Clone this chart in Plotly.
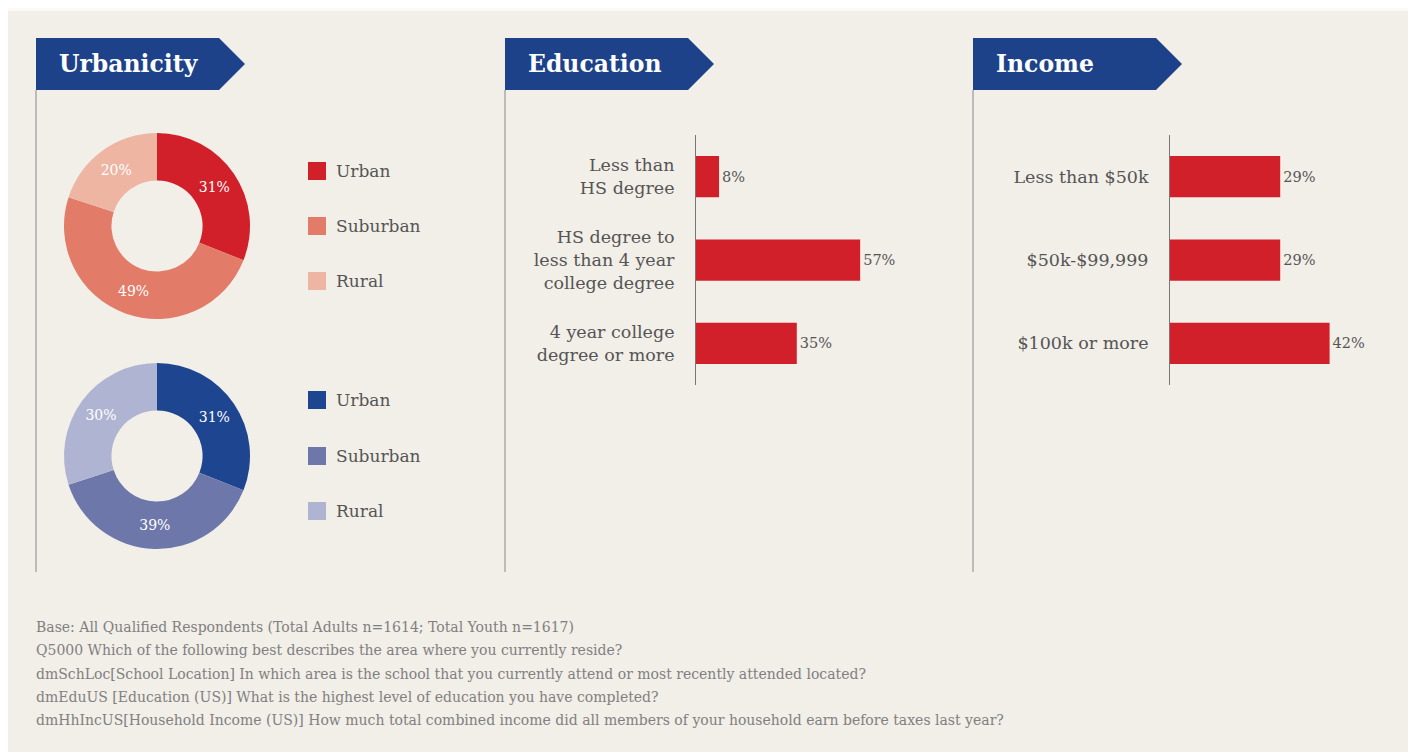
import plotly.graph_objects as go

# The browser page adds an 8px body margin; the figure fills the rest of the window.
OFF = 8
W, H = 1416 - OFF, 752 - OFF

# ---------------- data ----------------
urb_labels = ["Urban", "Suburban", "Rural"]
urb_adults = [31, 49, 20]
urb_youth = [31, 39, 30]
red_colors = ["#D2202B", "#E27B67", "#EDB5A2"]
blue_colors = ["#1E4590", "#6D77A9", "#B0B4D3"]

edu_labels = ["Less than<br>HS degree", "HS degree to<br>less than 4 year<br>college degree",
              "4 year college<br>degree or more"]
edu_values = [8, 57, 35]

inc_labels = ["Less than $50k", "$50k-$99,999", "$100k or more"]
inc_values = [29, 29, 42]

panel_titles = ["Urbanicity", "Education", "Income"]

footnotes = [
    "Base: All Qualified Respondents (Total Adults n=1614; Total Youth n=1617)",
    "Q5000 Which of the following best describes the area where you currently reside?",
    "dmSchLoc[School Location] In which area is the school that you currently attend or most recently attended located?",
    "dmEduUS [Education (US)] What is the highest level of education you have completed?",
    "dmHhIncUS[Household Income (US)] How much total combined income did all members of your household earn before taxes last year?",
]

SERIF = "DejaVu Serif"
TXT = "#555555"
BANNER = "#1D4289"
BG = "#F2EEE8"


def px(x):
    return (x - OFF) / W


def py(y):
    return 1 - (y - OFF) / H


fig = go.Figure()


# ---------------- donuts ----------------
def donut(values, colors, cy):
    cx, r = 157, 93
    fig.add_trace(go.Pie(
        labels=urb_labels, values=values, sort=False, direction="clockwise",
        rotation=0, hole=0.49,
        marker=dict(colors=colors, line=dict(width=0)),
        texttemplate="%{value}%", textposition="inside", insidetextorientation="horizontal",
        textfont=dict(family=SERIF, size=14, color="white"),
        domain=dict(x=[px(cx - r), px(cx + r)], y=[py(cy + r), py(cy - r)]),
        showlegend=False, hoverinfo="label+percent",
    ))


donut(urb_adults, red_colors, 226)
donut(urb_youth, blue_colors, 456)

# ---------------- bars ----------------
fig.add_trace(go.Bar(
    y=edu_labels, x=edu_values, orientation="h", xaxis="x", yaxis="y",
    marker=dict(color="#D2202B", line=dict(width=0)),
    text=[f"{v}%" for v in edu_values], textposition="outside", cliponaxis=False,
    textfont=dict(family=SERIF, size=14.5, color=TXT), showlegend=False,
))
fig.add_trace(go.Bar(
    y=inc_labels, x=inc_values, orientation="h", xaxis="x2", yaxis="y2",
    marker=dict(color="#D2202B", line=dict(width=0)),
    text=[f"{v}%" for v in inc_values], textposition="outside", cliponaxis=False,
    textfont=dict(family=SERIF, size=14.5, color=TXT), showlegend=False,
))

ydom = [py(385), py(135)]
xaxis_common = dict(showgrid=False, zeroline=False, showticklabels=False, showline=False, fixedrange=True)
yaxis_common = dict(showgrid=False, zeroline=False, showline=True, linecolor="#777777", linewidth=1,
                    autorange="reversed", ticks="", ticklabelstandoff=17,
                    tickfont=dict(family=SERIF, size=17.5, color=TXT), fixedrange=True)

fig.update_layout(
    xaxis=dict(domain=[px(696), px(696 + 70 * 2.88)], range=[0, 70], anchor="y", **xaxis_common),
    yaxis=dict(domain=ydom, anchor="x", **yaxis_common),
    xaxis2=dict(domain=[px(1170), px(1170 + 50 * 3.8)], range=[0, 50], anchor="y2", **xaxis_common),
    yaxis2=dict(domain=ydom, anchor="x2", **yaxis_common),
    bargap=0.505,
)

# ---------------- decorations ----------------
shapes = []
annotations = []

# panel background
shapes.append(dict(type="rect", xref="paper", yref="paper", x0=px(8), x1=px(1410), y0=0, y1=py(11),
                   fillcolor=BG, line=dict(width=0), layer="below"))

panel_x = [36, 505, 973]
for x0, title in zip(panel_x, panel_titles):
    # vertical rule
    shapes.append(dict(type="line", xref="paper", yref="paper", x0=px(x0), x1=px(x0),
                       y0=py(572), y1=py(90), line=dict(color="#888888", width=1)))
    # banner arrow
    path = (f"M {px(x0)},{py(38)} L {px(x0 + 183)},{py(38)} L {px(x0 + 209)},{py(64)} "
            f"L {px(x0 + 183)},{py(90)} L {px(x0)},{py(90)} Z")
    shapes.append(dict(type="path", xref="paper", yref="paper", path=path,
                       fillcolor=BANNER, line=dict(width=0)))
    annotations.append(dict(x=px(x0 + 21), y=py(64), xref="paper", yref="paper", text=f"<b>{title}</b>",
                            showarrow=False, xanchor="left", yanchor="middle",
                            font=dict(family=SERIF, size=23.5, color="white")))

# legends for donuts
for colors, ys in [(red_colors, [171, 226, 281]), (blue_colors, [400, 456, 511])]:
    for lab, col, yc in zip(urb_labels, colors, ys):
        shapes.append(dict(type="rect", xref="paper", yref="paper", x0=px(308), x1=px(326),
                           y0=py(yc + 9), y1=py(yc - 9), fillcolor=col, line=dict(width=0)))
        annotations.append(dict(x=px(334), y=py(yc), xref="paper", yref="paper", text=lab,
                                showarrow=False, xanchor="left", yanchor="middle",
                                font=dict(family=SERIF, size=17, color=TXT)))

# footnotes
for i, t in enumerate(footnotes):
    annotations.append(dict(x=px(34), y=py(627 + i * 23.3), xref="paper", yref="paper", text=t,
                            showarrow=False, xanchor="left", yanchor="middle",
                            font=dict(family=SERIF, size=14, color="#808080")))

fig.update_layout(
    width=W, height=H, margin=dict(l=0, r=0, t=0, b=0),
    paper_bgcolor="#FBFAF7", plot_bgcolor="rgba(0,0,0,0)",
    shapes=shapes, annotations=annotations, showlegend=False,
)

fig.write_html("out.html", config={"displayModeBar": False})
